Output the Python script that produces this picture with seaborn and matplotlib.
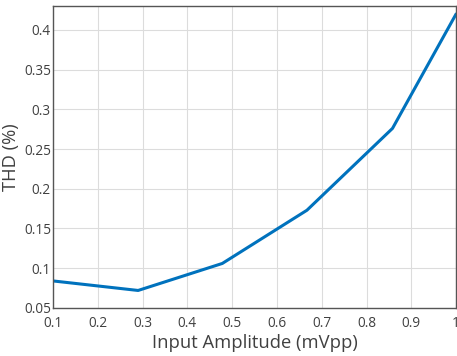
import matplotlib
matplotlib.use("Agg")
import matplotlib.pyplot as plt
import seaborn as sns
import pandas as pd

amplitude = [0.1, 0.29, 0.478, 0.667, 0.858, 1.0]
thd = [0.084, 0.072, 0.106, 0.173, 0.276, 0.42]
xticks = [0.1, 0.2, 0.3, 0.4, 0.5, 0.6, 0.7, 0.8, 0.9, 1.0]
xticklabels = ["0.1", "0.2", "0.3", "0.4", "0.5", "0.6", "0.7", "0.8", "0.9", "1"]
yticks = [0.05, 0.1, 0.15, 0.2, 0.25, 0.3, 0.35, 0.4]
yticklabels = ["0.05", "0.1", "0.15", "0.2", "0.25", "0.3", "0.35", "0.4"]

sns.set_style("white")
plt.rcParams['font.family'] = ['Open Sans', 'DejaVu Sans']

df = pd.DataFrame({"amp": amplitude, "thd": thd})
fig = plt.figure(figsize=(4.57, 3.56), dpi=100)
ax = fig.add_axes([0.116, 0.135, 0.882, 0.848])
sns.lineplot(data=df, x="amp", y="thd", ax=ax, color="#0072BD", linewidth=2.2)
ax.set_xlim(0.1, 1.0)
ax.set_ylim(0.05, 0.43)
ax.set_xticks(xticks)
ax.set_xticklabels(xticklabels)
ax.set_yticks(yticks)
ax.set_yticklabels(yticklabels)
ax.grid(True, color="#dcdcdc", linewidth=0.8)
ax.set_axisbelow(True)
ax.tick_params(direction="in", length=3, color="#404040", labelcolor="#404040", labelsize=9.8)
ax.tick_params(axis="x", pad=6)
ax.tick_params(axis="y", pad=1.5)
for s in ax.spines.values():
    s.set_color("#555555")
    s.set_linewidth(1.0)
ax.set_xlabel("Input Amplitude (mVpp)", fontsize=13.2, color="#404040", labelpad=2)
ax.set_ylabel("THD (%)", fontsize=13.2, color="#404040", labelpad=3)
fig.savefig("out.png", dpi=100)
